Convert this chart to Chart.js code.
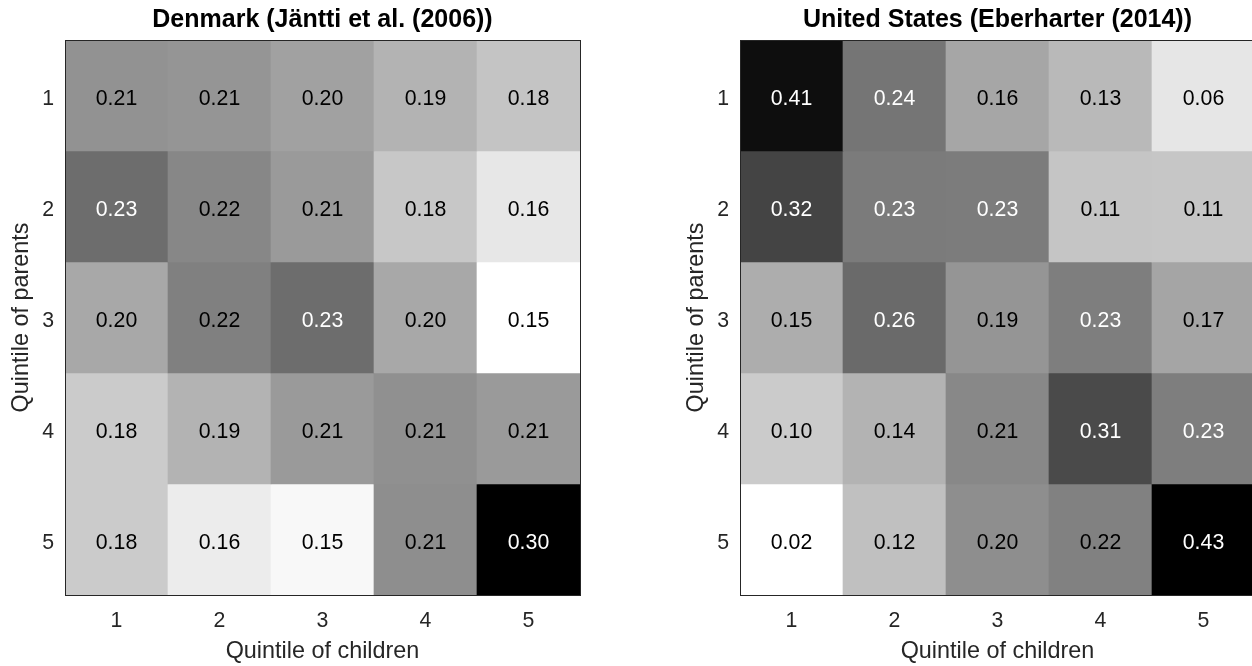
<!DOCTYPE html>
<html>
<head>
<meta charset="utf-8">
<script src="https://cdn.jsdelivr.net/npm/chart.js@4.4.0/dist/chart.umd.min.js"></script>
<style>
  html, body { margin: 0; padding: 0; background: #fff; overflow: hidden; width: 1252px; height: 666px; }
  .panel { position: absolute; top: 0; width: 645px; height: 666px; }
</style>
</head>
<body>
<div class="panel" style="left:0"><canvas id="dk" width="645" height="666"></canvas></div>
<div class="panel" style="left:675px"><canvas id="us" width="645" height="666"></canvas></div>
<script>
/* transition matrices: rows = quintile of parents, cols = quintile of children */
const childQuintiles = ['1', '2', '3', '4', '5'];
const parentQuintiles = [1, 2, 3, 4, 5];

const denmark = [
  [0.213, 0.211, 0.204, 0.194, 0.184],
  [0.234, 0.219, 0.208, 0.182, 0.164],
  [0.200, 0.223, 0.234, 0.200, 0.150],
  [0.180, 0.194, 0.208, 0.214, 0.208],
  [0.180, 0.161, 0.154, 0.215, 0.297]
];

const unitedStates = [
  [0.410, 0.244, 0.164, 0.133, 0.061],
  [0.323, 0.233, 0.232, 0.114, 0.113],
  [0.153, 0.261, 0.192, 0.229, 0.166],
  [0.104, 0.143, 0.213, 0.313, 0.229],
  [0.020, 0.122, 0.203, 0.224, 0.433]
];

Chart.defaults.font.family = "'Liberation Sans', Arial, Helvetica, sans-serif";

const INK = '#262626';

// gray colormap, low = white, high = black
function shade(v, lo, hi) {
  return 1 - (v - lo) / (hi - lo);
}

const cellLabels = {
  id: 'cellLabels',
  afterDatasetsDraw(chart) {
    const ctx = chart.ctx;
    ctx.save();
    ctx.font = '21.3px ' + Chart.defaults.font.family;
    ctx.textAlign = 'center';
    ctx.textBaseline = 'middle';
    chart.data.datasets.forEach((ds, i) => {
      chart.getDatasetMeta(i).data.forEach((el, j) => {
        ctx.fillStyle = ds.lum[j] < 0.5 ? '#fff' : '#000';
        ctx.fillText(ds.vals[j].toFixed(2), el.x, (el.y + el.base) / 2 + 4);
      });
    });
    ctx.restore();
  }
};

const boxFrame = {
  id: 'boxFrame',
  afterDraw(chart) {
    const a = chart.chartArea, ctx = chart.ctx;
    ctx.save();
    ctx.strokeStyle = INK;
    ctx.lineWidth = 1;
    ctx.strokeRect(Math.round(a.left) + 0.5, Math.round(a.top) + 0.5,
      Math.round(a.right - a.left), Math.round(a.bottom - a.top));
    ctx.restore();
  }
};

function heatmap(canvasId, title, matrix) {
  const flat = matrix.flat();
  const lo = Math.min(...flat), hi = Math.max(...flat);
  const datasets = parentQuintiles.map((p, i) => {
    const lum = matrix[i].map(v => shade(v, lo, hi));
    return {
      data: childQuintiles.map(() => [p - 0.5, p + 0.5]),
      vals: matrix[i],
      lum: lum,
      backgroundColor: lum.map(g => {
        const c = Math.round(g * 255);
        return `rgb(${c},${c},${c})`;
      }),
      borderWidth: 0,
      grouped: false,
      barPercentage: 1,
      categoryPercentage: 1
    };
  });

  return new Chart(document.getElementById(canvasId), {
    type: 'bar',
    data: { labels: childQuintiles, datasets },
    options: {
      responsive: false,
      animation: false,
      layout: { padding: 0 },
      plugins: {
        legend: { display: false },
        tooltip: { enabled: false },
        title: {
          display: true, text: title, color: '#000',
          font: { size: 25, weight: 'bold' },
          padding: { top: 5, bottom: 5 }
        }
      },
      scales: {
        x: {
          type: 'category', offset: true,
          grid: { display: false, drawTicks: false },
          border: { display: false },
          ticks: { color: INK, font: { size: 21.3 }, padding: 13 },
          title: { display: true, text: 'Quintile of children', color: INK,
            font: { size: 23.4 }, padding: { top: 0, bottom: 0 } },
          afterFit: s => { s.height = 71; }
        },
        y: {
          type: 'linear', min: 0.5, max: 5.5, reverse: true,
          afterBuildTicks: s => { s.ticks = parentQuintiles.map(v => ({ value: v })); },
          grid: { display: false, drawTicks: false },
          border: { display: false },
          ticks: { color: INK, font: { size: 21.3 }, padding: 11, labelOffset: 4 },
          title: { display: true, text: 'Quintile of parents', color: INK,
            font: { size: 23.4 }, padding: { top: 8, bottom: 0 } },
          afterFit: s => { s.width = 65; }
        },
        // empty right gutter so the title centres over the plot box
        gutter: {
          type: 'linear', position: 'right', display: true,
          grid: { display: false, drawTicks: false },
          border: { display: false },
          ticks: { display: false },
          afterFit: s => { s.width = 65; }
        }
      }
    },
    plugins: [cellLabels, boxFrame]
  });
}

heatmap('dk', 'Denmark (Jäntti et al. (2006))', denmark);
heatmap('us', 'United States (Eberharter (2014))', unitedStates);
</script>
</body>
</html>
